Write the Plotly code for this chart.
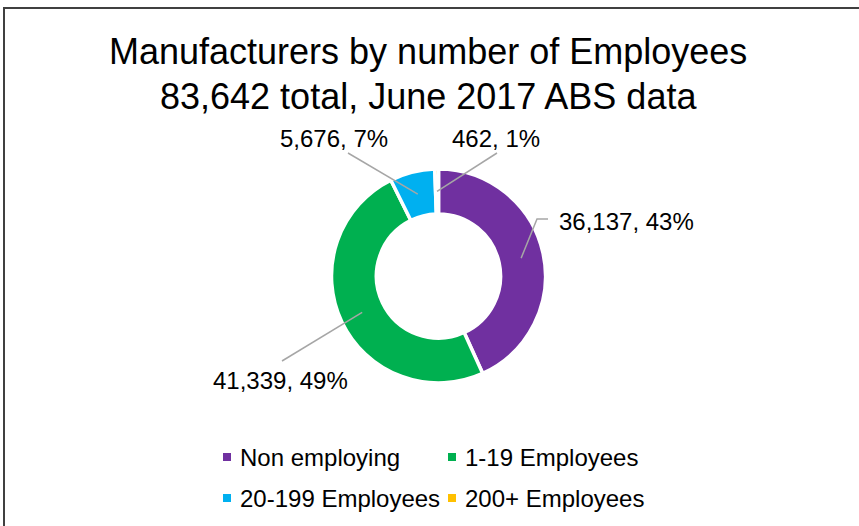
import math
import plotly.graph_objects as go

# Manufacturer counts by employment size, June 2017
categories = ["Non employing", "1-19 Employees", "20-199 Employees", "200+ Employees"]
counts = [36137, 41339, 5676, 462]
colors = ["#7030A0", "#00B050", "#00B0F0", "#FFC000"]
title_lines = ["Manufacturers by number of Employees", "83,642 total, June 2017 ABS data"]

W, H = 859, 526
FONT = "Liberation Sans, Arial, sans-serif"

# donut geometry in pixels
cx, cy, R = 438.5, 276.0, 107.0
HOLE = 0.58


def px(x):
    return x / W


def py(y):
    return 1 - y / H


fig = go.Figure(
    go.Pie(
        labels=categories,
        values=counts,
        marker=dict(colors=colors, line=dict(color="white", width=3.5)),
        hole=HOLE,
        sort=False,
        direction="clockwise",
        rotation=0,
        textinfo="none",
        showlegend=False,
        domain=dict(x=[px(cx - R), px(cx + R)], y=[py(cy + R), py(cy - R)]),
    )
)

total = sum(counts)
label_texts = [f"{v:,}, {round(100 * v / total)}%" for v in counts]

# label placement (pixel centre / anchor) and leader-line outer ends
label_pos = [(557, 221, "left"), (280.5, 380, "center"), (334, 138, "center"), (495.5, 138, "center")]
leader_outer = [[(537, 219), (548, 219)], [(282, 361)], [(348, 153)], [(497, 153)]]

shapes = []
annotations = []
r_mid = R * (1 + HOLE) / 2
cum = 0.0
for v, txt, (lx, ly, anc), outer in zip(counts, label_texts, label_pos, leader_outer):
    mid = (cum + v / 2) / total * 2 * math.pi
    cum += v
    ax_ = cx + r_mid * math.sin(mid)
    ay_ = cy - r_mid * math.cos(mid)
    pts = [(ax_, ay_)] + outer
    path = "M " + " L ".join(f"{px(x):.5f},{py(y):.5f}" for x, y in pts)
    shapes.append(dict(type="path", path=path, xref="paper", yref="paper",
                       line=dict(color="#A6A6A6", width=1.5)))
    annotations.append(dict(text=txt, x=px(lx), y=py(ly), xref="paper", yref="paper",
                            xanchor=anc, yanchor="middle", showarrow=False,
                            font=dict(family=FONT, size=24, color="#000000")))

# title
for line, y in zip(title_lines, [52, 96]):
    annotations.append(dict(text=line, x=px(428), y=py(y), xref="paper", yref="paper",
                            xanchor="center", yanchor="middle", showarrow=False,
                            font=dict(family=FONT, size=36, color="#000000")))

# legend: two rows of two entries
legend_slots = [(223, 457), (448, 457), (223, 498), (448, 498)]
for name, col, (lx, ly) in zip(categories, colors, legend_slots):
    shapes.append(dict(type="rect", xref="paper", yref="paper",
                       x0=px(lx), x1=px(lx + 8), y0=py(ly + 4), y1=py(ly - 4),
                       fillcolor=col, line=dict(width=0)))
    annotations.append(dict(text=name, x=px(lx + 15), y=py(ly), xref="paper", yref="paper",
                            xanchor="left", yanchor="middle", showarrow=False,
                            font=dict(family=FONT, size=24, color="#000000")))

# chart frame
shapes.append(dict(type="rect", xref="paper", yref="paper",
                   x0=px(4), x1=1.02, y0=-0.02, y1=py(8),
                   line=dict(color="#404040", width=2), fillcolor="rgba(0,0,0,0)"))

fig.update_layout(
    width=W, height=H,
    margin=dict(l=0, r=0, t=0, b=0),
    paper_bgcolor="white", plot_bgcolor="white",
    shapes=shapes, annotations=annotations,
)

fig.write_html("out.html")
